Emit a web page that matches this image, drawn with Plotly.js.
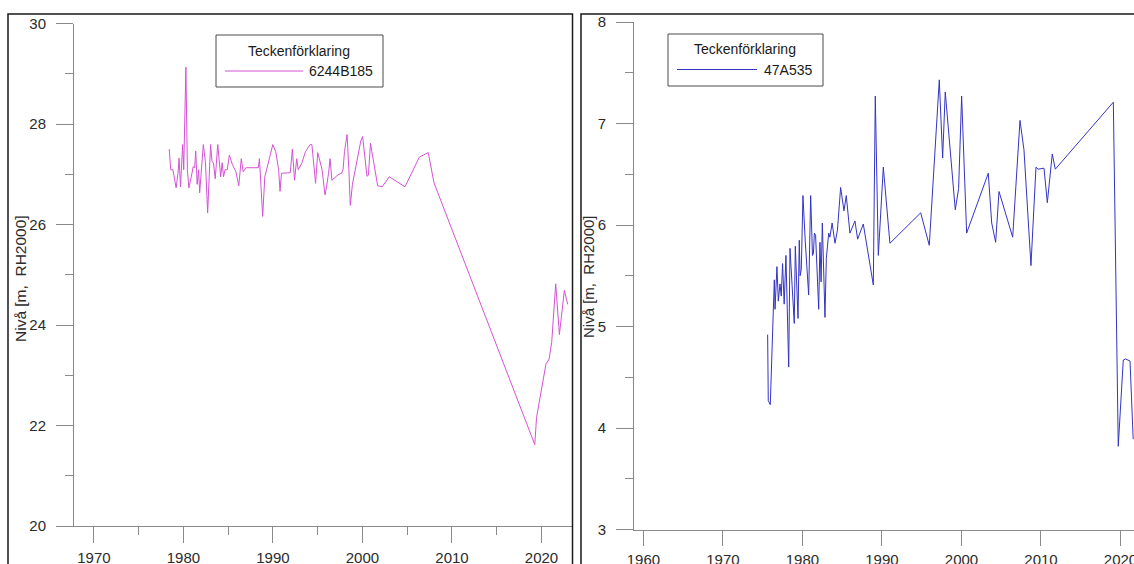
<!DOCTYPE html>
<html>
<head>
<meta charset="utf-8">
<script src="https://cdn.plot.ly/plotly-3.0.1.min.js"></script>
<style>
  html, body { margin: 0; padding: 0; background: #ffffff; }
  #chart { width: 1134px; height: 564px; }
</style>
</head>
<body>
<div id="chart"></div>
<script>
// Groundwater level series, well 6244B185 (decimal year, level in m RH2000)
const years6244B185 = [
  1978.41, 1978.58, 1978.82, 1979.18, 1979.39, 1979.51, 1979.67, 1979.79, 1979.91, 1980.03,
  1980.27, 1980.44, 1980.60, 1980.88, 1981.08, 1981.25, 1981.37, 1981.53, 1981.69, 1981.81,
  1981.93, 1982.22, 1982.46, 1982.70, 1983.03, 1983.19, 1983.35, 1983.55, 1983.83, 1984.00,
  1984.16, 1984.32, 1984.48, 1984.64, 1984.89, 1985.13, 1985.45, 1985.86, 1986.18, 1986.46,
  1986.67, 1986.99, 1988.37, 1988.49, 1988.69, 1988.85, 1989.09, 1989.98, 1990.31, 1990.63,
  1990.79, 1990.95, 1991.93, 1992.17, 1992.41, 1992.65, 1992.82, 1993.22, 1993.63, 1994.15,
  1994.35, 1994.60, 1994.76, 1995.00, 1995.24, 1995.49, 1995.81, 1995.97, 1996.21, 1996.38,
  1996.58, 1997.27, 1997.67, 1997.83, 1997.99, 1998.28, 1998.48, 1998.64, 1998.88, 1999.21,
  1999.81, 2000.02, 2000.26, 2000.50, 2000.66, 2000.90, 2001.05, 2001.70, 2002.20, 2003.00,
  2004.75, 2006.35, 2007.35, 2007.99, 2019.25, 2019.45, 2020.50, 2020.85, 2021.14, 2021.59,
  2022.00, 2022.56, 2022.93
];
const levels6244B185 = [
  27.50, 27.09, 27.09, 26.73, 27.02, 27.32, 26.75, 27.31, 27.59, 27.09,
  29.13, 27.09, 26.73, 26.95, 27.15, 27.13, 27.46, 26.80, 27.09, 26.63,
  26.89, 27.59, 27.23, 26.23, 27.59, 27.25, 27.23, 26.91, 27.59, 27.16,
  26.95, 27.23, 26.95, 27.09, 27.09, 27.38, 27.20, 27.05, 26.77, 27.31,
  27.05, 27.13, 27.13, 27.31, 26.73, 26.16, 26.95, 27.59, 27.45, 27.09,
  26.66, 27.02, 27.03, 27.50, 26.88, 27.31, 27.09, 27.22, 27.45, 27.59,
  27.59, 27.16, 26.82, 27.43, 27.23, 27.09, 26.59, 26.73, 27.02, 27.31,
  26.88, 26.99, 27.02, 27.09, 27.45, 27.79, 27.09, 26.38, 26.80, 27.09,
  27.66, 27.75, 27.38, 26.96, 26.98, 27.62, 27.45, 26.77, 26.75, 26.95,
  26.75, 27.34, 27.43, 26.83, 21.62, 22.16, 23.22, 23.32, 23.65, 24.82,
  23.81, 24.69, 24.41
];

// Groundwater level series, well 47A535
const years47A535 = [
  1975.62, 1975.70, 1975.95, 1976.46, 1976.55, 1976.79, 1976.96, 1977.17, 1977.33, 1977.50,
  1977.70, 1977.92, 1978.27, 1978.43, 1978.70, 1978.97, 1979.10, 1979.44, 1979.60, 1979.70,
  1979.85, 1980.06, 1980.35, 1980.78, 1981.03, 1981.26, 1981.38, 1981.50, 1981.65, 1982.04,
  1982.20, 1982.34, 1982.50, 1982.83, 1983.00, 1983.30, 1983.45, 1983.73, 1984.09, 1984.40,
  1984.80, 1985.22, 1985.51, 1985.97, 1986.60, 1986.94, 1987.65, 1988.91, 1989.16, 1989.54,
  1990.17, 1990.50, 1991.00, 1994.87, 1995.95, 1997.21, 1997.63, 1997.96, 1998.50, 1999.22,
  1999.64, 2000.02, 2000.65, 2003.37, 2003.80, 2004.30, 2004.72, 2006.44, 2007.36, 2007.86,
  2008.74, 2009.37, 2009.63, 2010.38, 2010.80, 2011.42, 2011.80, 2019.10, 2019.72, 2020.35,
  2020.64, 2021.20, 2021.60
];
const levels47A535 = [
  4.92, 4.27, 4.23, 5.46, 5.17, 5.59, 5.25, 5.42, 5.30, 5.62,
  5.22, 5.70, 4.60, 5.77, 5.40, 5.03, 5.79, 5.08, 5.85, 5.50,
  5.56, 6.29, 5.84, 5.31, 6.29, 5.70, 5.72, 5.92, 5.90, 5.17,
  5.83, 5.44, 6.02, 5.09, 5.67, 5.92, 5.88, 6.02, 5.82, 5.95,
  6.37, 6.14, 6.29, 5.92, 6.04, 5.86, 6.01, 5.41, 7.27, 5.70,
  6.57, 6.30, 5.82, 6.12, 5.80, 7.43, 6.66, 7.31, 6.80, 6.15,
  6.36, 7.27, 5.92, 6.51, 6.02, 5.83, 6.33, 5.88, 7.03, 6.74,
  5.60, 6.57, 6.55, 6.56, 6.22, 6.70, 6.55, 7.21, 3.82, 4.67,
  4.68, 4.66, 3.89
];

const seriesNames = ['6244B185', '47A535'];
const seriesColors = ['#d552d5', '#3434c4'];
const legendTitle = 'Teckenförklaring';
const yAxisTitle = 'Nivå [m,\u00a0 RH2000]';

// Tick values for the two panels
const leftYTicks = [20, 22, 24, 26, 28, 30];
const leftXTicks = [1970, 1980, 1990, 2000, 2010, 2020];
const rightYTicks = [3, 4, 5, 6, 7, 8];
const rightXTicks = [1960, 1970, 1980, 1990, 2000, 2010, 2020];

// Page geometry helpers (pixel -> paper fraction)
const W = 1134, H = 564;
const px = x => x / W;
const py = y => 1 - y / H;

const FONT = 'Liberation Sans, Arial, Helvetica, sans-serif';
const AXIS_GREY = '#8a8a8a';
const LABEL = '#2b2b2b';

const traces = [
  {
    x: years6244B185, y: levels6244B185, name: seriesNames[0],
    type: 'scatter', mode: 'lines', xaxis: 'x', yaxis: 'y',
    line: { color: seriesColors[0], width: 1 }, hoverinfo: 'skip'
  },
  {
    x: years47A535, y: levels47A535, name: seriesNames[1],
    type: 'scatter', mode: 'lines', xaxis: 'x2', yaxis: 'y2',
    line: { color: seriesColors[1], width: 1 }, hoverinfo: 'skip'
  }
];

const tickFont = { family: FONT, size: 15, color: LABEL };

function xAxis(domain, range, ticks, anchor, ticklen, standoff, minor) {
  const ax = {
    domain: domain, range: range, anchor: anchor,
    tickmode: 'array', tickvals: ticks, ticktext: ticks.map(String),
    showline: true, linecolor: AXIS_GREY, linewidth: 1,
    ticks: 'outside', ticklen: ticklen, tickwidth: 1, tickcolor: AXIS_GREY,
    showgrid: false, zeroline: false, tickfont: tickFont,
    ticklabelstandoff: standoff, ticklabeloverflow: 'allow', fixedrange: true
  };
  if (minor) ax.minor = { dtick: minor, tick0: ticks[0], ticks: 'outside', ticklen: 8, tickcolor: AXIS_GREY, tickwidth: 1, showgrid: false };
  return ax;
}
function yAxis(domain, range, ticks, anchor, minor) {
  return {
    domain: domain, range: range, anchor: anchor,
    tickmode: 'array', tickvals: ticks, ticktext: ticks.map(String),
    showline: true, linecolor: AXIS_GREY, linewidth: 1,
    ticks: 'outside', ticklen: 17, tickwidth: 1, tickcolor: AXIS_GREY,
    minor: { dtick: minor, tick0: ticks[0], ticks: 'outside', ticklen: 8, tickcolor: AXIS_GREY, tickwidth: 1, showgrid: false },
    showgrid: false, zeroline: false, tickfont: tickFont,
    ticklabelstandoff: 7, fixedrange: true
  };
}

// Custom legend boxes: a framed box with a title, a line sample and the series name
function legendParts(box, color, name) {
  const shapes = [
    { type: 'rect', xref: 'paper', yref: 'paper',
      x0: px(box.x0), x1: px(box.x1), y0: py(box.y1), y1: py(box.y0),
      line: { color: '#4a4a4a', width: 1 }, fillcolor: '#ffffff', layer: 'above' },
    { type: 'line', xref: 'paper', yref: 'paper',
      x0: px(box.lx0), x1: px(box.lx1), y0: py(box.ly), y1: py(box.ly),
      line: { color: color, width: 1 }, layer: 'above' }
  ];
  const annotations = [
    { xref: 'paper', yref: 'paper', x: px(box.tx), y: py(box.ty),
      xanchor: 'center', yanchor: 'middle', showarrow: false, text: legendTitle,
      font: { family: FONT, size: 14, color: '#1a1a1a' } },
    { xref: 'paper', yref: 'paper', x: px(box.nx), y: py(box.ly),
      xanchor: 'right', yanchor: 'middle', showarrow: false, text: name,
      font: { family: FONT, size: 14, color: '#1a1a1a' } }
  ];
  return { shapes, annotations };
}

const legLeft = legendParts(
  { x0: 216, x1: 383, y0: 35, y1: 87, tx: 299, ty: 51, lx0: 225, lx1: 303, ly: 71, nx: 375 },
  seriesColors[0], seriesNames[0]);
const legRight = legendParts(
  { x0: 668, x1: 823, y0: 34, y1: 86, tx: 745, ty: 49.5, lx0: 677, lx1: 757, ly: 69.5, nx: 814 },
  seriesColors[1], seriesNames[1]);

const frames = [
  { type: 'rect', xref: 'paper', yref: 'paper', x0: px(8), x1: px(572.5), y0: -0.1, y1: py(14),
    line: { color: '#1a1a1a', width: 1.5 }, layer: 'above' },
  { type: 'rect', xref: 'paper', yref: 'paper', x0: px(581), x1: 1.1, y0: -0.1, y1: py(14),
    line: { color: '#1a1a1a', width: 1.5 }, layer: 'above' }
];

const titles = [
  { xref: 'paper', yref: 'paper', x: px(20), y: py(279), xanchor: 'center', yanchor: 'middle',
    textangle: -90, showarrow: false, text: yAxisTitle, font: { family: FONT, size: 15.5, color: LABEL } },
  { xref: 'paper', yref: 'paper', x: px(588), y: py(277), xanchor: 'center', yanchor: 'middle',
    textangle: -90, showarrow: false, text: yAxisTitle, font: { family: FONT, size: 15, color: LABEL } }
];

const layout = {
  width: W, height: H,
  margin: { l: 0, r: 0, t: 0, b: 0, pad: 0 },
  paper_bgcolor: '#ffffff', plot_bgcolor: '#ffffff',
  showlegend: false,
  font: { family: FONT, color: LABEL },
  xaxis: xAxis([px(74), px(572)], [1967.77, 2023.41], leftXTicks, 'y', 16, 2, 5),
  yaxis: yAxis([py(526), py(23.5)], [20, 30], leftYTicks, 'x', 1),
  xaxis2: xAxis([px(634), 1], [1958.81, 2021.70], rightXTicks, 'y2', 15, 1, null),
  yaxis2: yAxis([py(529.5), py(22)], [3, 8], rightYTicks, 'x2', 0.5),
  shapes: frames.concat(legLeft.shapes, legRight.shapes),
  annotations: titles.concat(legLeft.annotations, legRight.annotations)
};

Plotly.newPlot('chart', traces, layout, { displayModeBar: false, staticPlot: true });
</script>
</body>
</html>
